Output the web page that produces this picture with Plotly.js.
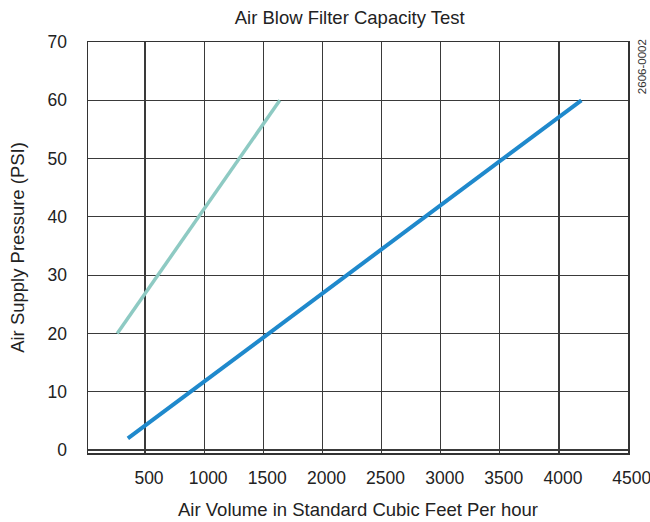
<!DOCTYPE html>
<html>
<head>
<meta charset="utf-8">
<script src="https://cdn.plot.ly/plotly-3.0.1.min.js"></script>
<style>html,body{margin:0;padding:0;background:#fff}#chart{width:650px;height:522px}</style>
</head>
<body>
<div id="chart"></div>
<script>
// Data (both series are straight lines)
const tealVolume = [265, 1640];
const tealPressure = [20, 60];
const blueVolume = [355, 4190];
const bluePressure = [2, 60];
const xTickVals = [500, 1000, 1500, 2000, 2500, 3000, 3500, 4000, 4582];
const xTickText = ['500', '1000', '1500', '2000', '2500', '3000', '3500', '4000', '4500'];
const yTickVals = [0, 10, 20, 30, 40, 50, 60, 70];
const yTickText = ['0', '10', '20', '30', '40', '50', '60', '70'];

const font = 'Liberation Sans, Arial, Helvetica, sans-serif';

const traces = [
  {x: tealVolume, y: tealPressure, type: 'scatter', mode: 'lines',
   line: {color: '#8ecac3', width: 3.5}, hoverinfo: 'skip'},
  {x: blueVolume, y: bluePressure, type: 'scatter', mode: 'lines',
   line: {color: '#1f89cc', width: 4}, hoverinfo: 'skip'}
];

const layout = {
  width: 650, height: 522,
  margin: {l: 88, r: 22, t: 42, b: 69},
  paper_bgcolor: '#fff', plot_bgcolor: '#fff',
  showlegend: false,
  font: {family: font, color: '#222'},
  title: {text: 'Air Blow Filter Capacity Test', font: {size: 18.5, family: font, color: '#222'},
          x: 0.538, xanchor: 'center', y: 0.967, yanchor: 'middle', xref: 'container', yref: 'container'},
  xaxis: {
    range: [18, 4584], tickmode: 'array', tickvals: xTickVals, ticktext: xTickText,
    showgrid: true, gridcolor: '#3a3a3a', gridwidth: 1.2, zeroline: false,
    showline: true, mirror: true, linecolor: '#333', linewidth: 1.5,
    ticks: '', ticklabelstandoff: 8, ticklabelshift: 4, ticklabeloverflow: 'allow',
    tickfont: {size: 17.5, family: font, color: '#222'},
    title: {text: 'Air Volume in Standard Cubic Feet Per hour', font: {size: 18.5, family: font, color: '#222'}, standoff: 16}
  },
  yaxis: {
    range: [-0.5, 70], tickmode: 'array', tickvals: yTickVals, ticktext: yTickText,
    showgrid: true, gridcolor: '#3a3a3a', gridwidth: 1.2, zeroline: false,
    showline: true, mirror: true, linecolor: '#333', linewidth: 1.5,
    ticks: '', ticklabelstandoff: 16,
    tickfont: {size: 17.5, family: font, color: '#222'},
    title: {text: 'Air Supply Pressure (PSI)', font: {size: 18.5, family: font, color: '#222'}, standoff: 18}
  },
  annotations: [
    {text: '2606-0002', xref: 'paper', yref: 'paper', x: 1.025, y: 0.94, xanchor: 'center', yanchor: 'middle',
     textangle: -90, showarrow: false, font: {size: 11.5, family: font, color: '#333'}}
  ]
};

Plotly.newPlot('chart', traces, layout, {displayModeBar: false, staticPlot: true});
</script>
</body>
</html>
